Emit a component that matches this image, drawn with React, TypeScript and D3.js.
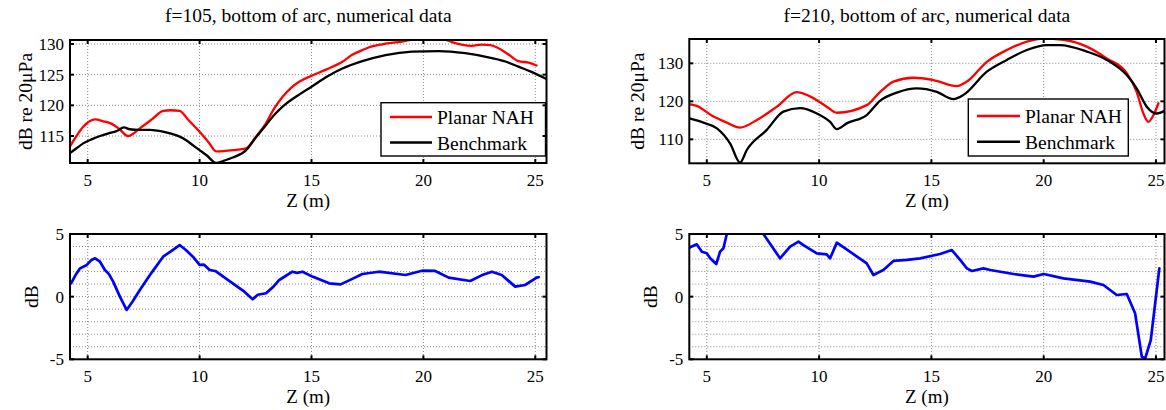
import React from 'react';
import * as d3 from 'd3';

type Pt = [number, number];

const xTicks = [5, 10, 15, 20, 25];
const topLeftYTicks = [115, 120, 125, 130];
const topRightYTicks = [110, 120, 130];
const diffYTicks = [-5, 0, 5];
const diffMinorTicks = [-4, -3, -2, -1, 1, 2, 3, 4];
const legendLabels = ['Planar NAH', 'Benchmark'];

const nah105: Pt[] = [[4.21,113.3],[4.5,115.0],[4.8,116.5],[5.33,117.7],[5.7,117.4],[6.0,117.1],[6.4,116.2],[6.8,115.0],[7.33,116.25],[7.9,117.8],[8.37,119.1],[8.7,119.2],[9.11,119.1],[9.5,117.6],[10.0,115.7],[10.4,114.0],[10.74,112.5],[11.5,112.7],[12.08,113.0],[12.5,114.8],[12.97,117.1],[13.3,119.3],[13.71,121.4],[14.1,122.9],[14.45,123.85],[15.05,124.9],[15.7,125.9],[16.38,127.1],[16.8,128.2],[17.27,129.0],[17.7,129.6],[18.16,129.95],[19.05,130.4],[19.8,130.9],[20.4,131.1],[20.9,130.8],[21.28,130.3],[21.7,129.9],[22.17,129.7],[22.6,129.9],[23.0,129.8],[23.36,129.3],[23.8,128.3],[24.25,127.2],[24.7,126.95],[25.06,126.5]];
const bench105: Pt[] = [[4.21,112.2],[4.5,113.0],[4.8,113.8],[5.2,114.5],[5.55,115.0],[5.9,115.4],[6.29,115.8],[6.62,116.4],[6.88,116.1],[7.3,116.0],[7.77,116.0],[8.37,115.7],[8.8,115.3],[9.11,114.9],[9.4,114.3],[9.7,113.5],[10.0,112.7],[10.3,111.9],[10.74,110.6],[11.1,111.0],[11.48,111.5],[12.08,112.7],[12.5,114.7],[12.97,116.8],[13.3,118.3],[13.71,119.8],[14.3,121.4],[15.05,123.15],[15.7,124.7],[16.38,126.0],[17.27,127.2],[18.31,128.2],[19.5,128.75],[20.69,128.85],[21.87,128.5],[23.06,127.7],[23.7,127.1],[24.25,126.3],[24.8,125.5],[25.5,124.3]];
const diff105: Pt[] = [[4.26,1.06],[4.45,1.7],[4.66,2.26],[4.96,2.53],[5.15,2.9],[5.33,3.06],[5.55,2.79],[5.77,2.13],[5.95,1.8],[6.14,1.2],[6.44,0.0],[6.74,-1.06],[7.0,-0.4],[7.33,0.53],[7.85,1.9],[8.37,3.19],[8.7,3.6],[9.11,4.12],[9.4,3.7],[9.7,3.19],[10.0,2.53],[10.2,2.55],[10.45,2.13],[10.7,2.05],[11.48,1.06],[12.0,0.4],[12.37,-0.21],[12.6,0.15],[12.97,0.27],[13.3,0.8],[13.56,1.33],[14.15,1.99],[14.35,1.9],[14.6,1.99],[15.04,1.6],[15.79,1.06],[16.3,0.98],[16.8,1.4],[17.27,1.81],[18.01,1.99],[19.2,1.73],[19.94,2.07],[20.53,2.05],[21.13,1.52],[22.09,1.25],[22.6,1.7],[23.06,1.99],[23.5,1.73],[24.1,0.8],[24.54,0.93],[25.06,1.52],[25.15,1.55]];

const nah210: Pt[] = [[4.23,119.3],[4.55,118.8],[5.3,116],[5.89,114.4],[6.48,113.1],[7.23,115.1],[8.12,118.6],[9.0,122.4],[9.45,121.7],[10.34,118.6],[10.79,117.0],[12.12,119.0],[12.72,122.5],[13.31,125.2],[14.2,126.2],[15.09,125.6],[16.13,124.0],[16.58,125.2],[17.47,130.4],[18.36,133.5],[19.25,135.7],[19.99,136.5],[20.88,136.2],[21.92,134.4],[22.81,131.3],[23.7,127.4],[24.14,122.5],[24.44,116.8],[24.66,114.6],[24.89,116.4],[25.11,119.5]];
const bench210: Pt[] = [[4.23,115.5],[4.85,114.4],[5.45,112.9],[6.04,108.9],[6.48,103.9],[6.78,107.2],[7.67,112.5],[8.41,117.3],[9.15,118.2],[9.9,116.8],[10.49,114.6],[10.79,112.7],[11.23,114.2],[12.12,116.4],[12.72,120.2],[13.46,122.3],[14.35,123.4],[15.24,122.5],[15.98,120.6],[16.43,121.7],[17.47,127.8],[18.36,130.9],[19.25,133.5],[20.14,134.8],[20.73,134.8],[21.92,133.1],[22.81,130.9],[23.7,126.9],[24.14,123.4],[24.59,118.6],[25.03,116.8],[25.45,117.7]];
const diff210: Pt[] = [[4.26,3.94],[4.55,4.18],[4.78,3.59],[5.0,3.46],[5.15,3.06],[5.42,2.6],[5.59,3.59],[5.74,3.86],[5.89,5.0],[6.2,7.5],[6.6,9],[7.0,8.5],[7.3,6.5],[7.52,5.0],[8.26,3.06],[8.71,3.99],[9.08,4.39],[9.3,4.12],[9.9,3.46],[10.34,3.38],[10.49,3.06],[10.79,4.31],[12.12,2.66],[12.42,1.73],[12.86,2.13],[13.31,2.85],[13.91,2.93],[14.5,3.06],[15.39,3.4],[15.91,3.72],[16.28,2.93],[16.58,2.26],[16.8,2.05],[17.32,2.26],[17.62,2.13],[18.66,1.81],[19.55,1.6],[20.0,1.81],[20.88,1.46],[22.07,1.2],[22.66,0.93],[23.25,0.13],[23.7,0.21],[24.07,-1.33],[24.37,-4.79],[24.52,-4.92],[24.77,-3.46],[25.15,2.26]];

const FONT = '"Liberation Serif", "Times New Roman", serif';

type Box = { l: number; r: number; t: number; b: number };
type Series = { data: Pt[]; color: string; width: number; smooth: boolean };
type Legend = { l: number; r: number; t: number; b: number; lineX0: number; lineX1: number; textX: number; rows: number[] };

function Panel(props: {
  id: string; box: Box; xDom: [number, number]; yDom: [number, number];
  yTicks: number[]; yMinor?: number[]; series: Series[];
  title?: string; titleY?: number; ylabel: string; ylabelX: number;
  xlabelY: number; xTickY: number; legend?: Legend;
}) {
  const { id, box, xDom, yDom, yTicks, yMinor, series, title, titleY, ylabel, ylabelX, xlabelY, xTickY, legend } = props;
  const x = d3.scaleLinear().domain(xDom).range([box.l, box.r]);
  const y = d3.scaleLinear().domain(yDom).range([box.b, box.t]);
  const cx = (box.l + box.r) / 2;
  const cy = (box.t + box.b) / 2;
  const tl = 4;
  const grid = { stroke: '#8a8a8a', strokeWidth: 1, strokeDasharray: '1 2' };
  return (
    <g>
      <defs>
        <clipPath id={id}>
          <rect x={box.l} y={box.t} width={box.r - box.l} height={box.b - box.t} />
        </clipPath>
      </defs>
      <rect x={box.l} y={box.t} width={box.r - box.l} height={box.b - box.t} fill="#fff" />
      {(yMinor || []).map(v => (
        <line key={'m' + v} x1={box.l} x2={box.r} y1={y(v)} y2={y(v)} {...grid} />
      ))}
      {yTicks.map(v => (
        <line key={'gy' + v} x1={box.l} x2={box.r} y1={y(v)} y2={y(v)} {...grid} />
      ))}
      {xTicks.map(v => (
        <line key={'gx' + v} x1={x(v)} x2={x(v)} y1={box.t} y2={box.b} {...grid} />
      ))}
      <g clipPath={`url(#${id})`}>
        {series.map((s, i) => {
          const gen = d3.line<Pt>().x(d => x(d[0])).y(d => y(d[1]))
            .curve(s.smooth ? d3.curveMonotoneX : d3.curveLinear);
          return <path key={i} d={gen(s.data) || ''} fill="none" stroke={s.color} strokeWidth={s.width} strokeLinejoin="round" strokeLinecap="round" />;
        })}
      </g>
      {legend && (
        <g>
          <rect x={legend.l} y={legend.t} width={legend.r - legend.l} height={legend.b - legend.t} fill="#fff" stroke="#000" strokeWidth={1.4} />
          {legendLabels.map((lab, i) => (
            <g key={lab}>
              <line x1={legend.lineX0} x2={legend.lineX1} y1={legend.rows[i]} y2={legend.rows[i]} stroke={series[i].color} strokeWidth={2.4} />
              <text x={legend.textX} y={legend.rows[i] + 7} fontSize={19.5} fontFamily={FONT} fill="#000">{lab}</text>
            </g>
          ))}
        </g>
      )}
      {xTicks.map(v => (
        <g key={'tx' + v}>
          <line x1={x(v)} x2={x(v)} y1={box.b} y2={box.b - tl} stroke="#000" strokeWidth={2} />
          <line x1={x(v)} x2={x(v)} y1={box.t} y2={box.t + tl} stroke="#000" strokeWidth={2} />
          <text x={x(v)} y={xTickY} textAnchor="middle" fontSize={17} fontFamily={FONT} fill="#000">{v}</text>
        </g>
      ))}
      {yTicks.map(v => (
        <g key={'ty' + v}>
          <line x1={box.l} x2={box.l + tl} y1={y(v)} y2={y(v)} stroke="#000" strokeWidth={2} />
          <line x1={box.r} x2={box.r - tl} y1={y(v)} y2={y(v)} stroke="#000" strokeWidth={2} />
          <text x={box.l - 6} y={y(v)} dy="0.36em" textAnchor="end" fontSize={17} fontFamily={FONT} fill="#000">{v}</text>
        </g>
      ))}
      <rect x={box.l} y={box.t} width={box.r - box.l} height={box.b - box.t} fill="none" stroke="#000" strokeWidth={2} />
      {title && (
        <text x={cx} y={titleY} textAnchor="middle" fontSize={19.5} fontFamily={FONT} fill="#000">{title}</text>
      )}
      <text x={cx} y={xlabelY} textAnchor="middle" fontSize={19} fontFamily={FONT} fill="#000">Z (m)</text>
      <text transform={`translate(${ylabelX},${cy}) rotate(-90)`} textAnchor="middle" fontSize={19.5} fontFamily={FONT} fill="#000">{ylabel}</text>
    </g>
  );
}

export default function App() {
  const red = '#ff0000';
  const black = '#000000';
  const blue = '#0000ff';
  return (
    <svg width={1166} height={410} style={{ position: 'absolute', left: 0, top: 0, background: '#fff' }}>
      <rect x={0} y={0} width={1166} height={410} fill="#fff" />
      <Panel id="c1" box={{ l: 70, r: 546.5, t: 40, b: 163 }} xDom={[4.21, 25.5]} yDom={[110.6, 130.65]}
        yTicks={topLeftYTicks}
        series={[{ data: nah105, color: red, width: 2.3, smooth: true }, { data: bench105, color: black, width: 2.3, smooth: true }]}
        title="f=105, bottom of arc, numerical data" titleY={22} ylabel="dB re 20μPa" ylabelX={32}
        xTickY={185.5} xlabelY={207}
        legend={{ l: 381, r: 545.5, t: 102.7, b: 156, lineX0: 390, lineX1: 432, textX: 437, rows: [117, 142.5] }} />
      <Panel id="c2" box={{ l: 70, r: 546.5, t: 234, b: 359.3 }} xDom={[4.21, 25.5]} yDom={[-5, 5]}
        yTicks={diffYTicks} yMinor={diffMinorTicks}
        series={[{ data: diff105, color: blue, width: 2.7, smooth: false }]}
        ylabel="dB" ylabelX={38} xTickY={381.5} xlabelY={403} />
      <Panel id="c3" box={{ l: 689.3, r: 1164.5, t: 39, b: 163.3 }} xDom={[4.22, 25.38]} yDom={[103.7, 136.4]}
        yTicks={topRightYTicks}
        series={[{ data: nah210, color: red, width: 2.3, smooth: true }, { data: bench210, color: black, width: 2.3, smooth: true }]}
        title="f=210, bottom of arc, numerical data" titleY={22} ylabel="dB re 20μPa" ylabelX={644}
        xTickY={185.5} xlabelY={207}
        legend={{ l: 968.3, r: 1128.3, t: 99, b: 156, lineX0: 977, lineX1: 1020, textX: 1025, rows: [116, 141.7] }} />
      <Panel id="c4" box={{ l: 689.3, r: 1164.5, t: 234, b: 359.3 }} xDom={[4.22, 25.38]} yDom={[-5, 5]}
        yTicks={diffYTicks} yMinor={diffMinorTicks}
        series={[{ data: diff210, color: blue, width: 2.7, smooth: false }]}
        ylabel="dB" ylabelX={657} xTickY={381.5} xlabelY={403} />
    </svg>
  );
}
